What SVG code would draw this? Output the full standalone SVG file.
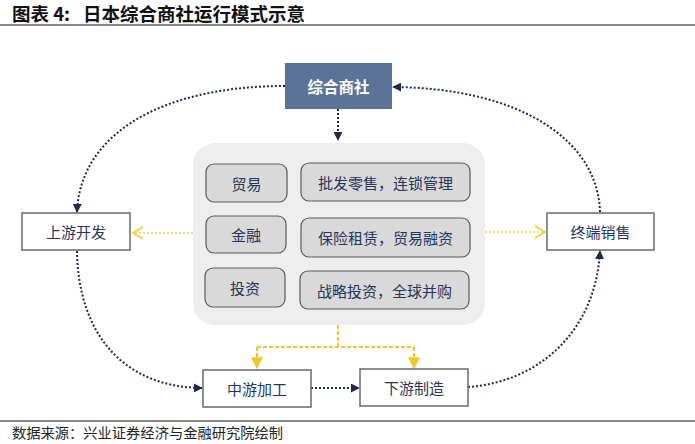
<svg xmlns="http://www.w3.org/2000/svg" width="695" height="444" viewBox="0 0 695 444">
<style>
.cjk{font-family:"Noto Sans CJK SC","Noto Sans",sans-serif}
.lbl{font-size:15px;fill:#26355a;text-anchor:middle;dominant-baseline:central}
.inner{fill:#d9d9d9;stroke:#5a5a5a;stroke-width:1.2}
.outer{fill:#ffffff;stroke:#6a6a6a;stroke-width:1.5}
.nav{fill:none;stroke:#1f2a4a;stroke-width:2;stroke-dasharray:2 2}
.yd{fill:none;stroke:#f3cf45;stroke-width:1.6;stroke-dasharray:2 2}
.yds{fill:none;stroke:#f0c52e;stroke-width:2;stroke-dasharray:4 2}
</style>
<defs>
<marker id="nh" viewBox="0 0 10 10" refX="9" refY="5" markerWidth="9" markerHeight="9" markerUnits="userSpaceOnUse" orient="auto">
<path d="M0,0 L10,5 L0,10 z" fill="#1f2a4a"/>
</marker>
<marker id="yh" viewBox="0 0 10 10" refX="9" refY="5" markerWidth="12" markerHeight="12" markerUnits="userSpaceOnUse" orient="auto">
<path d="M0,0 L10,5 L0,10 z" fill="#f0c52e"/>
</marker>
<marker id="yc" viewBox="0 0 12 14" refX="11" refY="7" markerWidth="12" markerHeight="14" markerUnits="userSpaceOnUse" orient="auto">
<path d="M1,1 L11,7 L1,13" fill="none" stroke="#f3cf45" stroke-width="2"/>
</marker>
</defs>
<rect width="695" height="444" fill="#ffffff"/>
<g id="title" class="cjk" font-weight="700" fill="#111">
<text x="12" y="21" font-size="18.5">图表 4:</text>
<text x="83" y="21" font-size="18.5" textLength="222" lengthAdjust="spacingAndGlyphs">日本综合商社运行模式示意</text>
</g>
<line x1="0" y1="25" x2="695" y2="25" stroke="#111" stroke-width="1.2"/>
<g id="connectors">
<path class="nav" d="M338,109 L338,140" marker-end="url(#nh)"/>
<path class="nav" d="M285,86 C160,86 80,135 77,212" marker-end="url(#nh)"/>
<path class="nav" d="M600,212 C598,140 520,88 393,87" marker-end="url(#nh)"/>
<path class="nav" d="M77,251 C78,330 120,387 202,388" marker-end="url(#nh)"/>
<path class="nav" d="M311,388 L359,388" marker-end="url(#nh)"/>
<path class="nav" d="M468,387 C540,382 596,330 600,251" marker-end="url(#nh)"/>
<path class="yd" d="M193,233 L133,233" marker-end="url(#yc)"/>
<path class="yd" d="M485,232 L545,232" marker-end="url(#yc)"/>
<path class="yds" d="M338,325 L338,347 M257,347 L414,347"/>
<path class="yds" d="M257,347 L257,368" marker-end="url(#yh)"/>
<path class="yds" d="M414,347 L414,368" marker-end="url(#yh)"/>
</g>
<g id="zonghe">
<rect x="285" y="63" width="107" height="46" fill="#5b7396"/>
<text class="cjk" x="338.5" y="86" font-size="15.5" font-weight="700" fill="#ffffff" text-anchor="middle" dominant-baseline="central">综合商社</text>
</g>
<g id="center">
<rect x="193" y="143" width="292" height="182" rx="22" fill="#eeeeee"/>
</g>
<g id="n-maoyi"><rect class="inner" x="206" y="164" width="81" height="38" rx="8"/><text class="cjk lbl" x="246.5" y="183">贸易</text></g>
<g id="n-pifa"><rect class="inner" x="301" y="163" width="169" height="38" rx="8"/><text class="cjk lbl" x="385.5" y="182">批发零售，连锁管理</text></g>
<g id="n-jinrong"><rect class="inner" x="206" y="216" width="80" height="37" rx="8"/><text class="cjk lbl" x="246" y="234.5">金融</text></g>
<g id="n-baoxian"><rect class="inner" x="301" y="218" width="169" height="39" rx="8"/><text class="cjk lbl" x="385.5" y="237.5">保险租赁，贸易融资</text></g>
<g id="n-touzi"><rect class="inner" x="205" y="268" width="80" height="39" rx="8"/><text class="cjk lbl" x="245" y="287.5">投资</text></g>
<g id="n-zhanlue"><rect class="inner" x="300" y="271" width="169" height="38" rx="8"/><text class="cjk lbl" x="384.5" y="290">战略投资，全球并购</text></g>
<g id="n-shangyou"><rect class="outer" x="22" y="213" width="108" height="37"/><text class="cjk lbl" x="76" y="231.5">上游开发</text></g>
<g id="n-zhongduan"><rect class="outer" x="547" y="213" width="107" height="37"/><text class="cjk lbl" x="600.5" y="231.5">终端销售</text></g>
<g id="n-zhongyou"><rect class="outer" x="203" y="370" width="108" height="37"/><text class="cjk lbl" x="257" y="388.5">中游加工</text></g>
<g id="n-xiayou"><rect class="outer" x="360" y="369" width="108" height="37"/><text class="cjk lbl" x="414" y="387.5">下游制造</text></g>
<line x1="0" y1="421" x2="695" y2="421" stroke="#111" stroke-width="1.2"/>
<text class="cjk" x="12" y="438" font-size="14" fill="#222" textLength="271" lengthAdjust="spacingAndGlyphs">数据来源：兴业证券经济与金融研究院绘制</text>
</svg>
